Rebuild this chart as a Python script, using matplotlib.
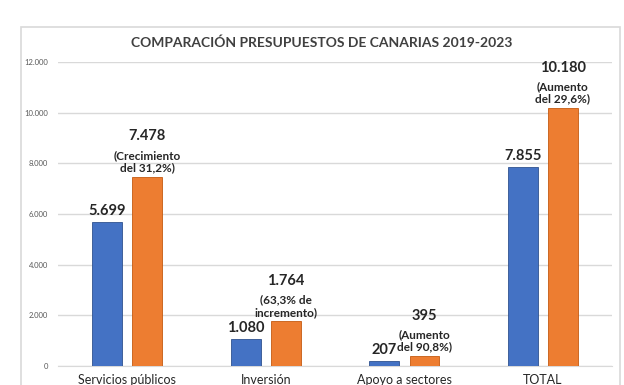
import matplotlib.pyplot as plt
import matplotlib.patches as patches
import numpy as np

plt.rcParams['font.family'] = ['Lato', 'DejaVu Sans']

# datos
categorias = ["Servicios públicos", "Inversión", "Apoyo a sectores", "TOTAL"]
valores_2019 = [5699, 1080, 207, 7855]
valores_2023 = [7478, 1764, 395, 10180]
etiquetas_2019 = ["5.699", "1.080", "207", "7.855"]
etiquetas_2023 = ["7.478", "1.764", "395", "10.180"]
notas_2023 = ["(Crecimiento\ndel 31,2%)", "(63,3% de\nincremento)",
              "(Aumento\ndel 90,8%)", "(Aumento\ndel 29,6%)"]
ticks_y = [0, 2000, 4000, 6000, 8000, 10000, 12000]
ticks_y_txt = ["0", "2.000", "4.000", "6.000", "8.000", "10.000", "12.000"]

azul = "#4472C4"
naranja = "#ED7D31"
texto = "#262626"

fig = plt.figure(figsize=(6.24, 3.85), dpi=100)
ax = fig.add_axes([0.093, 0.049, 0.888, 0.790])

# marco del gráfico
marco = patches.Rectangle((0.034, -0.1), 0.96, 1.03, transform=fig.transFigure,
                          fill=False, edgecolor="#D9D9D9", lw=1.2)
fig.patches.append(marco)

x = np.arange(len(categorias))
ancho = 0.215
desp = 0.145
ax.bar(x - desp, valores_2019, ancho, color=azul, edgecolor="#2F528F", lw=0.6, zorder=3)
ax.bar(x + desp, valores_2023, ancho, color=naranja, edgecolor="#C55A11", lw=0.6, zorder=3)

for i in range(len(categorias)):
    ax.annotate(etiquetas_2019[i], (x[i] - desp, valores_2019[i]), xytext=(0, 3),
                textcoords="offset points", ha="center", va="bottom",
                fontsize=10.5, fontweight="bold", color=texto)
    ax.annotate(notas_2023[i], (x[i] + desp, valores_2023[i]), xytext=(0, 2.5),
                textcoords="offset points", ha="center", va="bottom",
                multialignment="center", fontsize=8.5, fontweight="bold",
                color=texto, linespacing=1.15)
    ax.annotate(etiquetas_2023[i], (x[i] + desp, valores_2023[i]), xytext=(0, 29),
                textcoords="offset points", ha="center", va="center",
                fontsize=10.5, fontweight="bold", color=texto)

ax.set_xlim(-0.5, 3.5)
ax.set_ylim(0, 12000)
ax.set_yticks(ticks_y)
ax.set_yticklabels(ticks_y_txt, fontsize=5.5, color="#595959")
ax.set_xticks(x)
ax.set_xticklabels(categorias, fontsize=9, color=texto)
ax.tick_params(axis="both", length=0)
ax.tick_params(axis="y", pad=7)
ax.tick_params(axis="x", pad=6)
ax.grid(axis="y", color="#D9D9D9", lw=1, zorder=0)
for s in ["top", "right", "left"]:
    ax.spines[s].set_visible(False)
ax.spines["bottom"].set_color("#D9D9D9")

fig.text(0.516, 0.89, "COMPARACIÓN PRESUPUESTOS DE CANARIAS 2019-2023",
         ha="center", va="center", fontsize=10, fontweight="bold", color="#404040")

plt.savefig("out.png", dpi=100)
